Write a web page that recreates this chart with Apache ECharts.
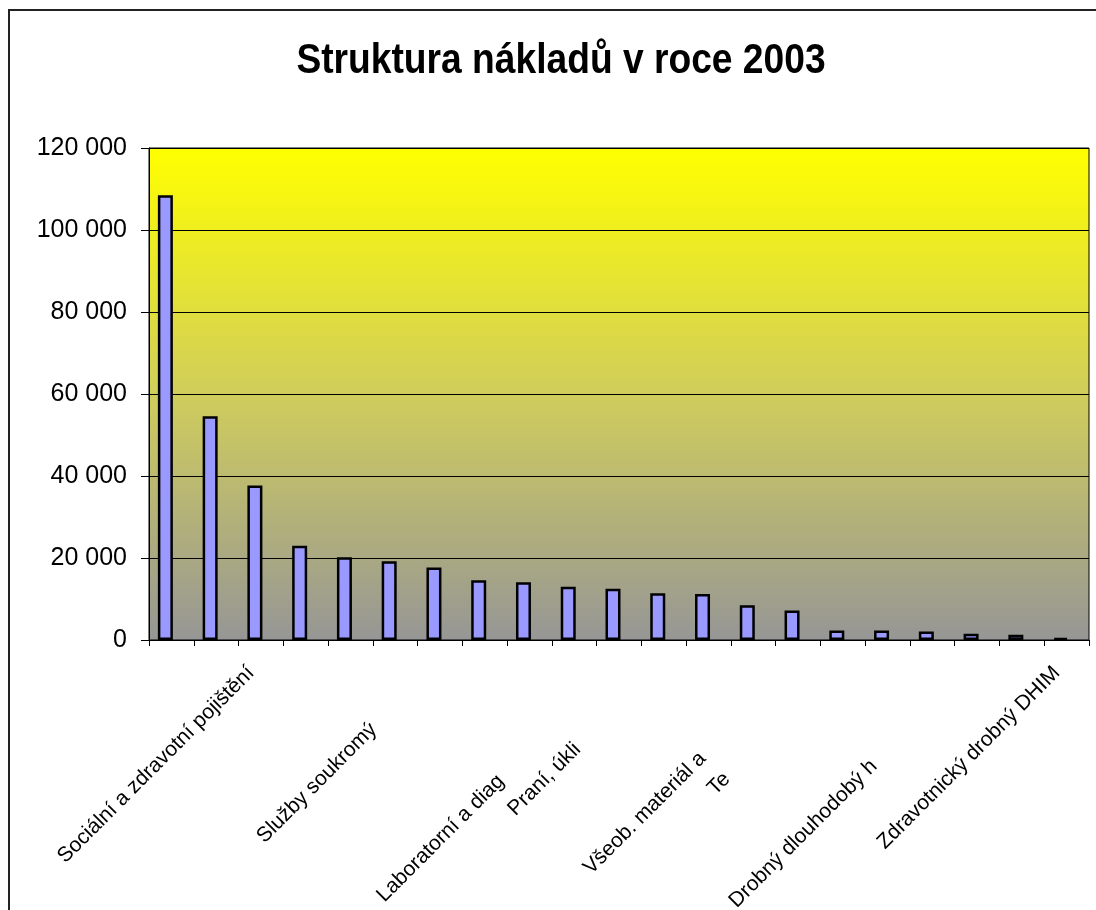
<!DOCTYPE html>
<html>
<head>
<meta charset="utf-8">
<title>Struktura nákladů v roce 2003</title>
<script src="https://cdn.jsdelivr.net/npm/echarts@6/dist/echarts.min.js"></script>
<style>
  html, body { margin: 0; padding: 0; background: #fff; }
  #chart { width: 1096px; height: 910px; }
</style>
</head>
<body>
<div id="chart"></div>
<script>
// axis labels as they are visible in the chart ('' = label not shown)
const categories = [
  '', '', 'Sociální a zdravotní pojištění', '', '', '',
  'Služby soukromý', '', '', '', 'Laboratorní a diag', 'Praní, úkli',
  '', '', 'Všeob. materiál a', 'Te', '', '', 'Drobný dlouhodobý h', '',
  'Zdravotnický drobný DHIM'
];
const costs = [
  108500, 54600, 37700, 23000, 20200, 19200, 17700, 14600, 14100, 13000,
  12500, 11400, 11200, 8500, 7200, 2300, 2300, 2100, 1500, 1300, 500
];
const emptySeries = [];
const chartTitle = 'Struktura nákladů v roce 2003';

const FONT = "'Liberation Sans', Arial, sans-serif";

// extra room after truncated labels so they start where they do in the original
const labelTail = { 6: 80, 10: 153, 11: 108, 14: 121, 15: 150, 18: 132 };
const rich = {};
categories.forEach((c, i) => {
  rich['t' + i] = {
    fontSize: 21,
    fontFamily: FONT,
    color: '#000',
    padding: [0, 14 + (labelTail[i] || 0), 0, 0]
  };
});

const fmtThousands = (v) => String(v).replace(/\B(?=(\d{3})+(?!\d))/g, ' ');

const chart = echarts.init(document.getElementById('chart'), null, { renderer: 'canvas' });

const option = {
  animation: false,
  backgroundColor: '#fff',
  graphic: [
    {
      type: 'rect',
      silent: true,
      shape: { x: 9, y: 10, width: 1200, height: 1000 },
      style: { fill: 'none', stroke: '#222', lineWidth: 2 }
    },
    {
      // title is drawn a bit condensed in the original
      type: 'text',
      silent: true,
      x: 561,
      y: 61,
      scaleX: 0.865,
      style: {
        text: chartTitle,
        fontFamily: FONT,
        fontSize: 43,
        fontWeight: 'bold',
        fill: '#000',
        textAlign: 'center',
        textVerticalAlign: 'middle'
      }
    }
  ],
  grid: {
    left: 149,
    right: 7,
    top: 148,
    bottom: 270,
    outerBoundsMode: 'none',
    show: true,
    borderColor: '#000',
    borderWidth: 1,
    backgroundColor: new echarts.graphic.LinearGradient(0, 0, 0, 1, [
      { offset: 0, color: '#ffff00' },
      { offset: 0.5, color: '#d0cd5c' },
      { offset: 1, color: '#969696' }
    ])
  },
  xAxis: {
    type: 'category',
    data: categories,
    axisLine: { lineStyle: { color: '#000', width: 1 } },
    axisTick: { show: true, interval: 0, length: 6, lineStyle: { color: '#000' } },
    axisLabel: {
      interval: 0,
      rotate: 45,
      margin: 20,
      fontSize: 21,
      fontFamily: FONT,
      color: '#000',
      formatter: (v, i) => (v ? '{t' + i + '|' + v + '}' : ''),
      rich: rich
    },
    splitLine: { show: false }
  },
  yAxis: {
    type: 'value',
    min: 0,
    max: 120000,
    interval: 20000,
    axisLine: { show: true, lineStyle: { color: '#000', width: 1 } },
    axisTick: { show: true, length: 8, lineStyle: { color: '#000' } },
    axisLabel: {
      margin: 22,
      fontSize: 25,
      fontFamily: FONT,
      color: '#000',
      formatter: fmtThousands
    },
    splitLine: { show: true, lineStyle: { color: '#000', width: 1 } }
  },
  series: [
    {
      name: 'Náklady',
      type: 'bar',
      data: costs,
      barWidth: 15,
      barGap: '-20%',
      itemStyle: { color: '#9999ff', borderColor: '#000', borderWidth: 2.5 }
    },
    {
      name: '',
      type: 'bar',
      data: emptySeries,
      barWidth: 15
    }
  ]
};

chart.setOption(option);
window.addEventListener('resize', () => chart.resize());
</script>
</body>
</html>
